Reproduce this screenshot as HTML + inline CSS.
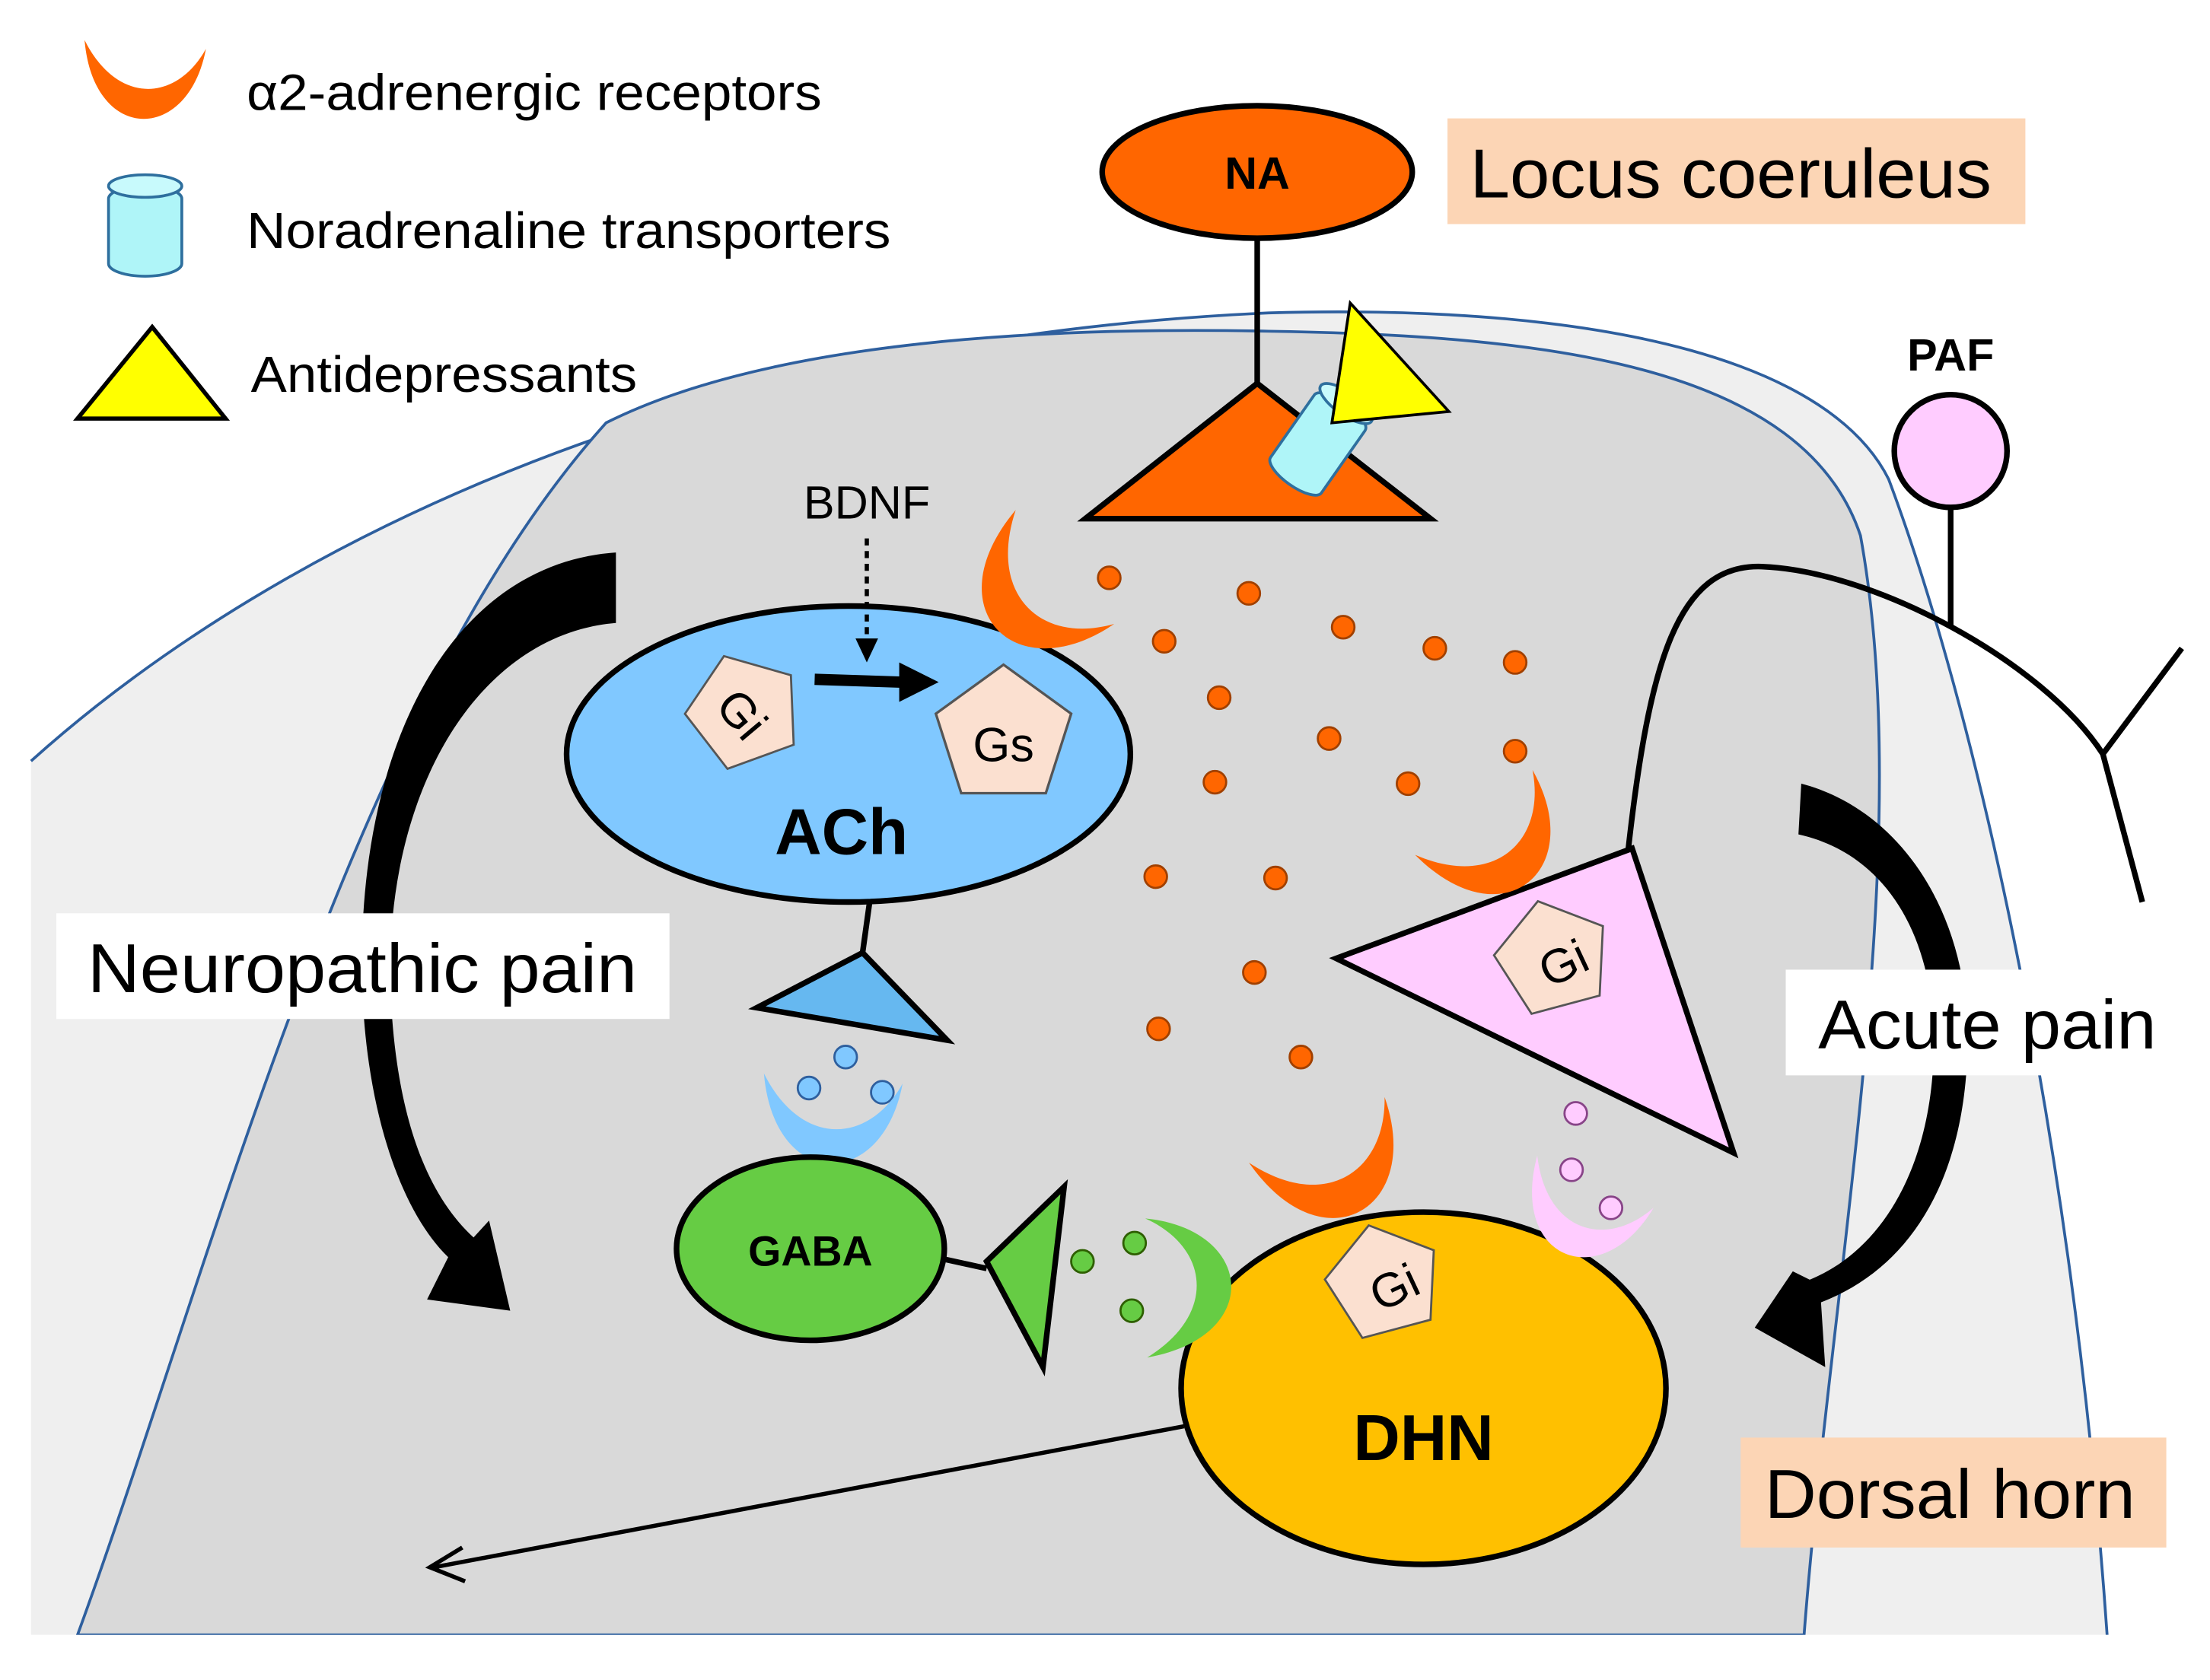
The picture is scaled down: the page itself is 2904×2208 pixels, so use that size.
<!DOCTYPE html>
<html><head><meta charset="utf-8"><style>html,body{margin:0;padding:0;background:#fff}svg{display:block}text{font-family:"Liberation Sans",Arial,sans-serif}</style></head><body>
<svg width="2904" height="2208" viewBox="0 0 1568 1192" preserveAspectRatio="none" xmlns="http://www.w3.org/2000/svg">
<defs>
<path id="cr" d="M-40,-32 C-34,38 30,38 42,-26 C22,10 -18,12 -40,-32 Z"/>
<polygon id="pent" points="0,-42 40,-13 25,34 -25,34 -40,-13"/>
</defs>
<rect width="1568" height="1192" fill="#fff"/>
<!-- outer -->
<path d="M22,540 C200,380 500,240 900,222 C1150,215 1300,260 1340,340 C1400,500 1470,800 1495,1160 L22,1160 Z" fill="#efefef"/>
<path d="M22,540 C200,380 500,240 900,222 C1150,215 1300,260 1340,340 C1400,500 1470,800 1495,1160" fill="none" stroke="#2e5f9e" stroke-width="2"/>
<!-- inner -->
<path d="M55,1160 C150,900 250,500 430,300 C550,240 750,232 900,235 C1100,238 1280,260 1320,380 C1360,600 1300,900 1280,1160 Z" fill="#d9d9d9" stroke="#2e5f9e" stroke-width="2"/>
<rect x="0" y="1160" width="1568" height="32" fill="#fff"/>
<!-- legend -->
<g transform="translate(102,62) scale(1.05)"><use href="#cr" fill="#ff6600"/></g>
<text x="175" y="78" font-size="36" textLength="408" lengthAdjust="spacingAndGlyphs">α2-adrenergic receptors</text>
<rect x="77" y="132" width="52" height="64" rx="26" ry="9" fill="#aff5f8" stroke="#2e6f9e" stroke-width="2"/>
<ellipse cx="103" cy="132" rx="26" ry="8" fill="#c8fafc" stroke="#2e6f9e" stroke-width="2"/>
<text x="175" y="176" font-size="36" textLength="457" lengthAdjust="spacingAndGlyphs">Noradrenaline transporters</text>
<polygon points="55,297 160,297 108,232" fill="#ffff00" stroke="#000" stroke-width="3"/>
<text x="178" y="278" font-size="36" textLength="274" lengthAdjust="spacingAndGlyphs">Antidepressants</text>
<!-- NA -->
<line x1="892" y1="168" x2="892" y2="272" stroke="#000" stroke-width="4"/>
<ellipse cx="892" cy="122" rx="110" ry="47" fill="#ff6600" stroke="#000" stroke-width="4"/>
<text x="892" y="134" font-size="32" font-weight="bold" text-anchor="middle">NA</text>
<rect x="1027" y="84" width="410" height="75" fill="#fcd5b5"/>
<text x="1043" y="140" font-size="49" textLength="370" lengthAdjust="spacingAndGlyphs">Locus coeruleus</text>
<polygon points="770,368 1015,368 892,272" fill="#ff6600" stroke="#000" stroke-width="4"/>
<g transform="translate(935,315) rotate(35)"><rect x="-22" y="-35" width="44" height="70" rx="22" ry="8" fill="#aff5f8" stroke="#2e6f9e" stroke-width="2"/><ellipse cx="0" cy="-35" rx="22" ry="8" fill="#c8fafc" stroke="#2e6f9e" stroke-width="2"/></g>
<polygon points="958,215 1028,292 945,300" fill="#ffff00" stroke="#000" stroke-width="2"/>
<!-- PAF -->
<text x="1384" y="263" font-size="32" font-weight="bold" text-anchor="middle">PAF</text>
<line x1="1384" y1="360" x2="1384" y2="445" stroke="#000" stroke-width="4"/>
<circle cx="1384" cy="320" r="40" fill="#ffccff" stroke="#000" stroke-width="4"/>
<path d="M1155,605 C1170,470 1190,400 1250,402 C1330,405 1450,470 1492,535 L1548,460 M1492,535 L1520,640" fill="none" stroke="#000" stroke-width="4"/>
<!-- pink neuron -->
<polygon points="948,680 1158,602 1230,818" fill="#ffccff" stroke="#000" stroke-width="4"/>
<g transform="translate(1068,605) rotate(-40) scale(1.25)"><use href="#cr" fill="#ff6600"/></g>
<g transform="translate(1102,680) rotate(-15)"><use href="#pent" fill="#fbe0d0" stroke="#555" stroke-width="1.5"/></g>
<text x="1110" y="695" font-size="34" text-anchor="middle" transform="rotate(-25 1110 685)">Gi</text>
<!-- ACh -->
<line x1="617" y1="640" x2="612" y2="676" stroke="#000" stroke-width="4"/>
<polygon points="537,715 612,676 672,738" fill="#66b8f0" stroke="#000" stroke-width="4"/>
<ellipse cx="602" cy="535" rx="200" ry="105" fill="#80c8ff" stroke="#000" stroke-width="4"/>
<g transform="translate(528,505) rotate(-20)"><use href="#pent" fill="#fbe0d0" stroke="#555" stroke-width="1.5"/></g>
<text x="525" y="518" font-size="34" text-anchor="middle" transform="rotate(50 525 508)">Gi</text>
<g transform="translate(712,522) scale(1.2)"><use href="#pent" fill="#fbe0d0" stroke="#555" stroke-width="1.5"/></g>
<text x="712" y="540" font-size="34" text-anchor="middle">Gs</text>
<text x="597" y="606" font-size="46" font-weight="bold" text-anchor="middle">ACh</text>
<g transform="translate(728,428) rotate(45) scale(1.3)"><use href="#cr" fill="#ff6600"/></g>
<line x1="578" y1="482" x2="640" y2="484" stroke="#000" stroke-width="8"/>
<polygon points="638,470 666,484 638,498" fill="#000"/>
<text x="615" y="368" font-size="33" text-anchor="middle">BDNF</text>
<line x1="615" y1="382" x2="615" y2="455" stroke="#000" stroke-width="3" stroke-dasharray="5,4"/>
<polygon points="607,453 623,453 615,470" fill="#000"/>
<!-- blue transmitter -->
<circle cx="600" cy="750" r="8" fill="#80c8ff" stroke="#2e5f9e" stroke-width="1.5"/>
<circle cx="574" cy="772" r="8" fill="#80c8ff" stroke="#2e5f9e" stroke-width="1.5"/>
<circle cx="626" cy="775" r="8" fill="#80c8ff" stroke="#2e5f9e" stroke-width="1.5"/>
<g transform="translate(590,800) scale(1.2)"><use href="#cr" fill="#80c8ff"/></g>
<!-- GABA -->
<line x1="668" y1="893" x2="700" y2="900" stroke="#000" stroke-width="4"/>
<ellipse cx="575" cy="886" rx="95" ry="65" fill="#66cc44" stroke="#000" stroke-width="4"/>
<text x="575" y="898" font-size="30" font-weight="bold" text-anchor="middle">GABA</text>
<polygon points="700,895 755,842 740,970" fill="#66cc44" stroke="#000" stroke-width="4"/>
<circle cx="768" cy="895" r="8" fill="#66cc44" stroke="#2e5f00" stroke-width="1.5"/>
<circle cx="805" cy="882" r="8" fill="#66cc44" stroke="#2e5f00" stroke-width="1.5"/>
<circle cx="803" cy="930" r="8" fill="#66cc44" stroke="#2e5f00" stroke-width="1.5"/>
<!-- DHN -->
<line x1="840" y1="1012" x2="308" y2="1112" stroke="#000" stroke-width="3"/>
<polyline points="328,1098 305,1112 330,1122" fill="none" stroke="#000" stroke-width="3"/>
<ellipse cx="1010" cy="985" rx="172" ry="125" fill="#ffc000" stroke="#000" stroke-width="4"/>
<text x="1010" y="1036" font-size="46" font-weight="bold" text-anchor="middle">DHN</text>
<g transform="translate(848,912) rotate(-95) scale(1.2)"><use href="#cr" fill="#66cc44"/></g>
<g transform="translate(952,835) rotate(-30) scale(1.3)"><use href="#cr" fill="#ff6600"/></g>
<g transform="translate(982,910) rotate(-15)"><use href="#pent" fill="#fbe0d0" stroke="#555" stroke-width="1.5"/></g>
<text x="990" y="925" font-size="34" text-anchor="middle" transform="rotate(-25 990 915)">Gi</text>
<g transform="translate(1120,868) rotate(20) scale(1.1)"><use href="#cr" fill="#ffccff"/></g>
<circle cx="1118" cy="790" r="8" fill="#ffccff" stroke="#884488" stroke-width="1.5"/>
<circle cx="1115" cy="830" r="8" fill="#ffccff" stroke="#884488" stroke-width="1.5"/>
<circle cx="1143" cy="857" r="8" fill="#ffccff" stroke="#884488" stroke-width="1.5"/>
<!-- orange dots -->
<g fill="#ff6600" stroke="#a04000" stroke-width="1.5">
<circle cx="787" cy="410" r="8"/><circle cx="886" cy="421" r="8"/><circle cx="826" cy="455" r="8"/><circle cx="953" cy="445" r="8"/><circle cx="1018" cy="460" r="8"/><circle cx="1075" cy="470" r="8"/><circle cx="865" cy="495" r="8"/><circle cx="943" cy="524" r="8"/><circle cx="1075" cy="533" r="8"/><circle cx="862" cy="555" r="8"/><circle cx="999" cy="556" r="8"/><circle cx="820" cy="622" r="8"/><circle cx="905" cy="623" r="8"/><circle cx="890" cy="690" r="8"/><circle cx="822" cy="730" r="8"/><circle cx="923" cy="750" r="8"/>
</g>
<!-- big curved arrows -->
<path d="M437,392 C320,400 252,530 257,700 C260,790 285,860 318,892 L303,922 L362,930 L347,866 L336,878 C300,845 280,785 277,700 C273,560 340,450 437,442 Z" fill="#000"/>
<path d="M1278,556 C1350,575 1397,650 1396,740 C1395,830 1360,898 1292,924 L1295,970 L1245,942 L1272,902 L1284,908 C1340,885 1372,820 1372,740 C1372,660 1335,605 1276,592 Z" fill="#000"/>
<!-- labels -->
<rect x="40" y="648" width="435" height="75" fill="#fff"/>
<text x="62" y="704" font-size="49" textLength="390" lengthAdjust="spacingAndGlyphs">Neuropathic  pain</text>
<rect x="1267" y="688" width="300" height="75" fill="#fff"/>
<text x="1290" y="744" font-size="49" textLength="240" lengthAdjust="spacingAndGlyphs">Acute pain</text>
<rect x="1235" y="1020" width="302" height="78" fill="#fcd5b5"/>
<text x="1252" y="1077" font-size="49" textLength="263" lengthAdjust="spacingAndGlyphs">Dorsal horn</text>
</svg>
</body></html>
